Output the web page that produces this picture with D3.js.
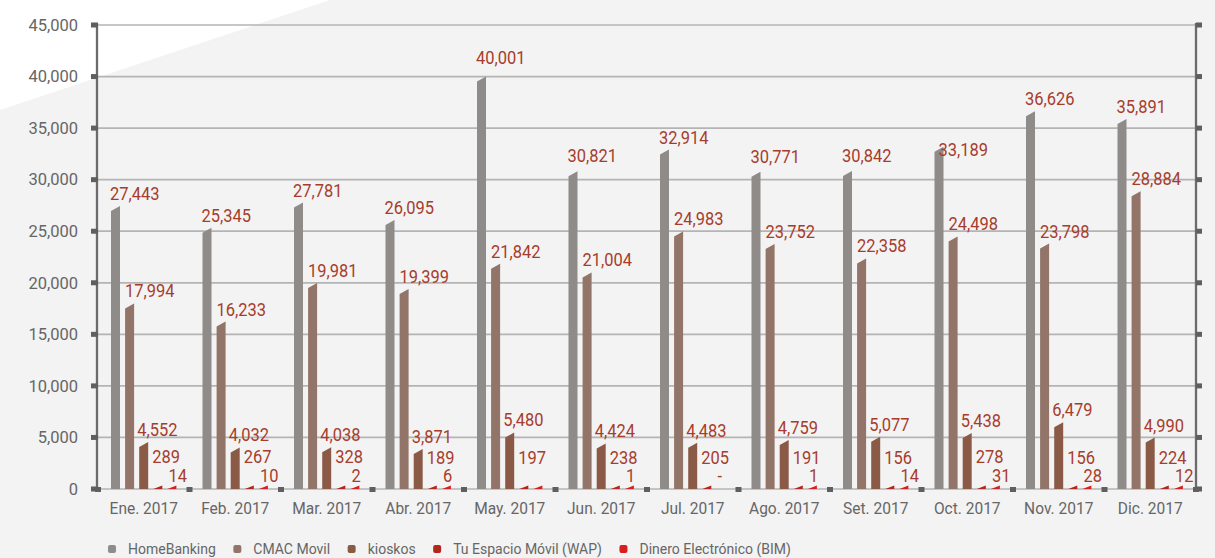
<!DOCTYPE html>
<html><head><meta charset="utf-8">
<script src="https://cdn.jsdelivr.net/npm/d3@7"></script>
<style>html,body{margin:0;padding:0;background:#f3f3f3;}svg{display:block;}</style>
</head><body>
<svg id="c" width="1215" height="558"></svg>
<script>
const categories = ["Ene. 2017","Feb. 2017","Mar. 2017","Abr. 2017","May. 2017","Jun. 2017","Jul. 2017","Ago. 2017","Set. 2017","Oct. 2017","Nov. 2017","Dic. 2017"];
const seriesNames = ["HomeBanking","CMAC Movil","kioskos","Tu Espacio Móvil (WAP)","Dinero Electrónico (BIM)"];
const homeBanking = [27443,25345,27781,26095,40001,30821,32914,30771,30842,33189,36626,35891];
const cmacMovil   = [17994,16233,19981,19399,21842,21004,24983,23752,22358,24498,23798,28884];
const kioskos     = [4552,4032,4038,3871,5480,4424,4483,4759,5077,5438,6479,4990];
const wap         = [289,267,328,189,197,238,205,191,156,278,156,224];
const bim         = [14,10,2,6,5,1,0,1,14,31,28,12];
const bimLabels   = ["14","10","2","6","","1","-","1","14","31","28","12"];
const yTicks = [0,5000,10000,15000,20000,25000,30000,35000,40000,45000];
const colors = ["#8f8b88","#927469","#8a5a47","#b3261e","#d81e1e"];

(function(){
const series = [homeBanking, cmacMovil, kioskos, wap, bim];
// manual label nudges (layout only) for HomeBanking labels, as placed in the original
const hbLabelNudge = {4:[0,-7], 5:[0,-3], 7:[0,-3], 8:[0,-3], 9:[5,15]};
const svg = d3.select("#c");
const W = 1215, H = 558;
const pL = 98, pR = 1196, pT = 25, pB = 489;

svg.append("rect").attr("width",W).attr("height",H).attr("fill","#f3f3f3");
svg.append("path").attr("d","M0,0L330,0L0,110Z").attr("fill","#ffffff");

const x = d3.scaleBand().domain(categories).range([pL,pR]).padding(0);
const y = d3.scaleLinear().domain([0,45000]).range([pB,pT]);
const sub = d3.scaleBand().domain(d3.range(5)).range([13, 13 + 4*14.1 + 9]).paddingInner(5.1/14.1).paddingOuter(0);

const fmt = d3.format(",");
const labelFont = "Roboto, 'Liberation Sans', sans-serif";

svg.append("g").selectAll("line").data(yTicks).join("line")
  .attr("x1",pL).attr("x2",pR)
  .attr("y1",d=>y(d)).attr("y2",d=>y(d))
  .attr("stroke","#b4b4b4").attr("stroke-width",1.7);

const gl = svg.append("g").attr("transform",`translate(${pL},0)`).call(d3.axisLeft(y).tickValues(yTicks).tickFormat(fmt).tickSize(0).tickPadding(20));
gl.select(".domain").remove();
gl.selectAll("text").attr("font-family",labelFont).attr("font-size",16.5).attr("fill","#666");
svg.append("line").attr("x1",pL-1).attr("x2",pL-1).attr("y1",y(45000)-2).attr("y2",pB+2).attr("stroke","#6b6b6b").attr("stroke-width",2.3);
svg.append("line").attr("x1",pR).attr("x2",pR).attr("y1",y(45000)-2).attr("y2",pB+2).attr("stroke","#6b6b6b").attr("stroke-width",2.3);
svg.append("g").selectAll("rect").data(yTicks).join("rect")
  .attr("x",pL-7).attr("y",d=>y(d)-2.5).attr("width",7).attr("height",5).attr("fill","#5f5f5f");
svg.append("g").selectAll("rect").data(yTicks).join("rect")
  .attr("x",pR).attr("y",d=>y(d)-2.5).attr("width",6).attr("height",5).attr("fill","#5f5f5f");

const bounds = categories.map(c=>x(c)).concat([pR]);
svg.append("g").selectAll("rect").data(bounds).join("rect")
  .attr("x",d=>d-3).attr("y",pB-2).attr("width",6).attr("height",5).attr("fill","#5f5f5f");

const gb = svg.append("g").attr("transform",`translate(0,${pB})`).call(d3.axisBottom(x).tickSize(0).tickPadding(13));
gb.select(".domain").remove();
gb.selectAll("text").attr("font-family",labelFont).attr("font-size",16.5).attr("fill","#666")
  .attr("transform","scale(0.94,1)");

const slant = 5, minH = 3.5;
const barData = [];
series.forEach((vals,si)=>{
  vals.forEach((v,ci)=>{
    if (v <= 0) return;
    barData.push({si, ci, v});
  });
});
svg.append("g").selectAll("path").data(barData).join("path")
  .attr("d",d=>{
    const x0 = x(categories[d.ci]) + sub(d.si), w = sub.bandwidth();
    const yt = Math.min(y(d.v), pB - minH), yl = Math.min(pB, yt + slant);
    return `M${x0},${pB}L${x0},${yl}L${x0+w},${yt}L${x0+w},${pB}Z`;
  })
  .attr("fill",d=>colors[d.si]);

const labelOffY = [6,6,6,23,7];
const labelOffX = [-1,0,-2,-1,1];
const labData = [];
series.forEach((vals,si)=>{
  vals.forEach((v,ci)=>{
    const t = si===4 ? bimLabels[ci] : fmt(v);
    if (t==="") return;
    const nd = (si===0 && hbLabelNudge[ci]) ? hbLabelNudge[ci] : [0,0];
    labData.push({si,ci,v,t,nd});
  });
});
svg.append("g").selectAll("text").data(labData).join("text")
  .attr("transform",d=>`translate(${x(categories[d.ci]) + sub(d.si) + labelOffX[d.si] + d.nd[0]},${y(d.v) - labelOffY[d.si] + d.nd[1]}) scale(0.89,1)`)
  .attr("font-family",labelFont).attr("font-size",18.5).attr("fill","#a63d2c")
  .text(d=>d.t);

const lg = svg.append("g");
let lx = 108;
seriesNames.forEach((n,i)=>{
  lg.append("rect").attr("x",lx).attr("y",545).attr("width",8).attr("height",8).attr("rx",2).attr("fill",colors[i]);
  const t = lg.append("text").attr("x",lx+20).attr("y",553.5).attr("font-family",labelFont).attr("font-size",14).attr("fill","#666").text(n);
  lx = lx + 20 + t.node().getComputedTextLength() + 17.5;
});
})();
</script>
</body></html>
